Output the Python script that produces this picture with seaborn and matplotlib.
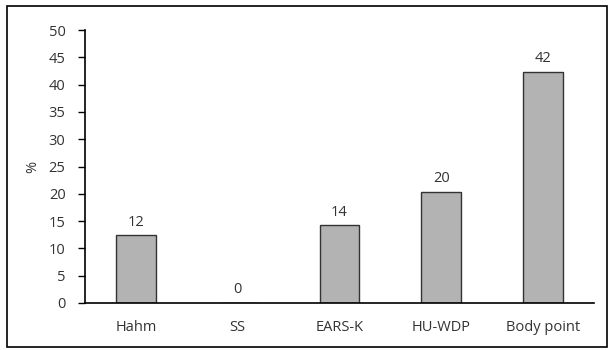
import matplotlib
matplotlib.use("Agg")
import matplotlib.pyplot as plt
import seaborn as sns
import pandas as pd
from matplotlib.patches import Rectangle

categories = ["Hahm", "SS", "EARS-K", "HU-WDP", "Body point"]
values = [12.4, 0.0, 14.2, 20.4, 42.3]
value_labels = ["12", "0", "14", "20", "42"]
yticks = [0, 5, 10, 15, 20, 25, 30, 35, 40, 45, 50]

sns.set_style("white")
plt.rcParams["font.family"] = ["Open Sans", "DejaVu Sans"]
FS = 10.5

df = pd.DataFrame({"cat": categories, "val": values})

fig = plt.figure(figsize=(6.14, 3.5), dpi=100)
ax = fig.add_axes([85/614, 1-303/350, (594-85)/614, (303-30)/350])
sns.barplot(data=df, x="cat", y="val", ax=ax, color="#b3b3b3",
            edgecolor="#333333", linewidth=1.0, width=0.39, saturation=1)
ax.set_ylim(0, 50)
ax.set_xlim(-0.5, len(categories) - 0.5)
ax.set_yticks(yticks)
ax.set_yticklabels([str(t) for t in yticks], fontsize=FS, color="#333333")
ax.set_xticks(range(len(categories)))
ax.set_xticklabels(categories, fontsize=FS, color="#333333")
ax.tick_params(axis="x", length=0, pad=12)
ax.set_xticks([i + 0.5 for i in range(len(categories))], minor=True)
ax.tick_params(axis="x", which="minor", length=5, width=1, color="black", direction="out")
ax.tick_params(axis="y", length=5, width=1, color="black", direction="out", pad=9, left=True)
for s in ["top", "right"]:
    ax.spines[s].set_visible(False)
for s in ["left", "bottom"]:
    ax.spines[s].set_color("black")
    ax.spines[s].set_linewidth(1.2)
ax.set_xlabel("")
ax.set_ylabel("%", fontsize=FS, color="#333333", labelpad=6)

for i, (v, lab) in enumerate(zip(values, value_labels)):
    ax.annotate(lab, (i, v), xytext=(0, 4), textcoords="offset points",
                ha="center", va="bottom", fontsize=FS, color="#333333")

fig.patches.append(Rectangle((7/614, 3/350), (607-7)/614, (344-3)/350,
                             transform=fig.transFigure, fill=False,
                             edgecolor="black", linewidth=1.2))
fig.savefig("out.png", dpi=100)
